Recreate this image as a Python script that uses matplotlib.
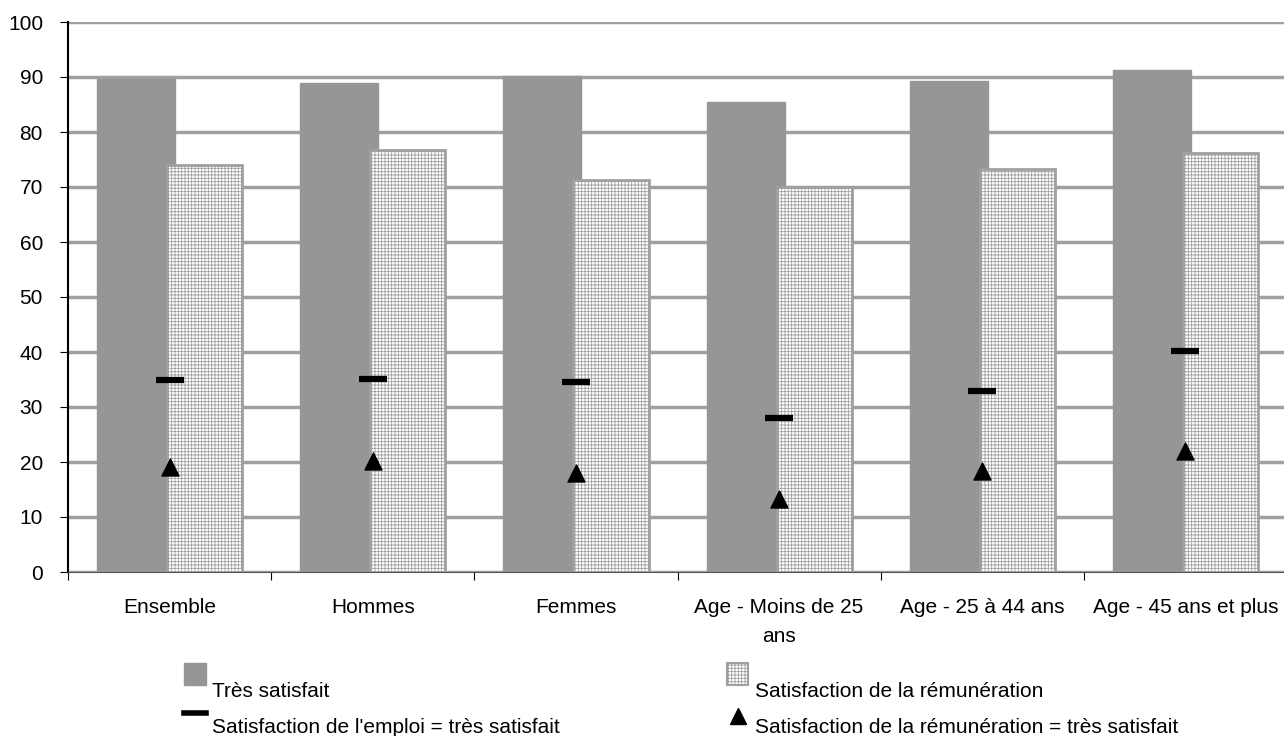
import numpy as np
import matplotlib.pyplot as plt
from matplotlib.patches import Rectangle

categories = ["Ensemble", "Hommes", "Femmes", "Age - Moins de 25\nans",
              "Age - 25 à 44 ans", "Age - 45 ans et plus"]
tres_satisfait = [89.6, 88.9, 90.2, 85.5, 89.3, 91.3]
satisf_remuneration = [74.0, 76.7, 71.3, 70.0, 73.3, 76.2]
emploi_tres_satisfait = [34.9, 35.1, 34.5, 28.0, 32.9, 40.2]
remun_tres_satisfait = [19.1, 20.2, 18.0, 13.3, 18.4, 22.0]
legend_labels = ["Très satisfait", "Satisfaction de la rémunération",
                 "Satisfaction de l'emploi = très satisfait",
                 "Satisfaction de la rémunération = très satisfait"]

plt.rcParams['font.family'] = ['Liberation Sans', 'DejaVu Sans']
plt.rcParams['hatch.linewidth'] = 0.6
plt.rcParams['hatch.color'] = '#a0a0a0'

W, H = 1284, 736
fig = plt.figure(figsize=(W / 100, H / 100), dpi=100)
ax = fig.add_axes([68 / W, 1 - 572 / H, 1219 / W, 550 / H])

x = np.arange(len(categories))
ax.bar(x - 0.5 + 0.143, tres_satisfait, width=0.384, align='edge',
       color='#969696', edgecolor='#969696', zorder=2)
ax.bar(x - 0.5 + 0.488, satisf_remuneration, width=0.37, align='edge',
       color='white', edgecolor='#a0a0a0', hatch='+++++', linewidth=2, zorder=3)
ax.scatter(x, emploi_tres_satisfait, marker='_', s=420, linewidths=4.5,
           color='black', zorder=4)
ax.scatter(x, remun_tres_satisfait, marker='^', s=150, color='black', zorder=4)

ax.set_xlim(-0.5, len(categories) - 0.5)
ax.set_ylim(0, 100)
ax.set_yticks(range(0, 101, 10))
ax.yaxis.grid(True, color='#a0a0a0', linewidth=2.5, zorder=0)
ax.set_axisbelow(True)
ax.set_xticks(np.arange(len(categories) + 1) - 0.5)
ax.set_xticklabels([])
ax.set_xticks(x, minor=True)
ax.set_xticklabels(categories, minor=True, fontsize=15, linespacing=1.65)
ax.tick_params(axis='x', which='minor', length=0, pad=19)
ax.tick_params(axis='x', which='major', length=6, direction='out')
ax.tick_params(axis='y', labelsize=15, length=6, direction='out', pad=12)
for s in ['top', 'right']:
    ax.spines[s].set_visible(False)
ax.spines['left'].set_linewidth(1.5)
ax.spines['bottom'].set_color('#555555')

# legend laid out in pixel coordinates, symbols sitting above their labels
lg = fig.add_axes([0, 0, 1, 1])
lg.set_xlim(0, W)
lg.set_ylim(H, 0)
lg.axis('off')
lg.add_patch(Rectangle((184, 663), 22, 22, facecolor='#969696', edgecolor='#969696'))
lg.add_patch(Rectangle((727, 663), 21, 22, facecolor='white', edgecolor='#a0a0a0',
                       hatch='+++++', linewidth=1.5))
lg.plot([184, 206], [713, 713], color='black', linewidth=4)
lg.plot([737.5], [716], marker='^', markersize=12, color='black')
lg.text(212, 697, legend_labels[0], fontsize=15, va='baseline')
lg.text(755, 697, legend_labels[1], fontsize=15, va='baseline')
lg.text(212, 733, legend_labels[2], fontsize=15, va='baseline')
lg.text(755, 733, legend_labels[3], fontsize=15, va='baseline')

fig.savefig('out.png', dpi=100)
